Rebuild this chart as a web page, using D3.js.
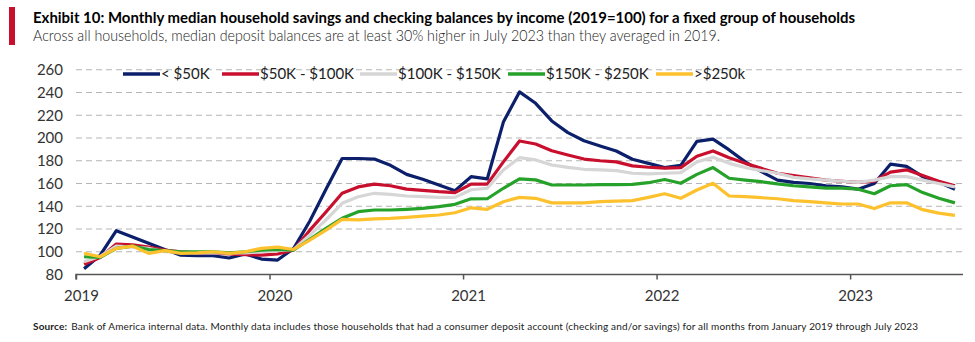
<!DOCTYPE html>
<html><head><meta charset="utf-8">
<script src="https://cdn.jsdelivr.net/npm/d3@7"></script>
<style>body{margin:0;background:#fff}svg{display:block}text{font-family:Lato,"Open Sans",sans-serif}</style>
</head><body><svg id="c" width="975" height="342"></svg>
<script>
const title = "Exhibit 10: Monthly median household savings and checking balances by income (2019=100) for a fixed group of households";
const subtitle = "Across all households, median deposit balances are at least 30% higher in July 2023 than they averaged in 2019.";
const sourceLabel = "Source:";
const sourceText = "Bank of America internal data. Monthly data includes those households  that had a consumer  deposit account  (checking  and/or savings) for all months from January 2019 through  July 2023";
const yearLabels = ["2019","2020","2021","2022","2023"];
const yTicks = [80,100,120,140,160,180,200,220,240,260];
const seriesNames = ["< $50K","$50K - $100K","$100K - $150K","$150K - $250K",">$250k"];
const seriesColors = ["#0c1f6b","#c8102e","#d6d6d6","#26a22a","#fdc12d"];
// monthly, Jan 2019 .. Jul 2023
const under50 = [85,97,118.5,113,107.5,102,97,96.5,96.5,94.5,98,93.6,92.7,103,127,155,182,182,181.5,176,168,163.7,158.7,153.7,166,164,214,240.5,230.5,215,204.7,197.6,193,188.6,181.3,177.7,174,176,197,199,189.5,179,170.4,163,161,160,158,157,155,160,177,175,166,161,155];
const k50to100 = [89,95,106.8,106,104,101.5,100,99,99,98,97.5,97,98,101.5,119,135,151.4,157,159.5,158,155,154,152.8,152,159.5,159.5,179,197.4,194.7,188.8,185,181.5,180,179,175.5,174.3,173.5,174,184,188.6,182.7,177.7,173.3,169,166.9,165,163,162,161,162,170,172,167,162,158];
const k100to150 = [91.3,96,105,104,103,100,99.5,99,99,99,99,100,101,102,114.7,128,142.6,148.4,151.4,150.5,149,148.4,147.8,147.8,154.5,155.8,171.9,182.7,180.7,176.3,174.2,172.5,171.9,171.3,169,168.4,169,169.6,179,183,177.7,174,171.3,169,165.4,164,163,162,161,163,166,166,163,160,157];
const k150to250 = [95.6,95,103,105,102,101,100,100,100,99,100,101.5,102,101.5,111,120.6,129.4,135.2,136.7,136.7,137.3,138.2,139.6,141.7,146.5,146.6,155.8,164,163.2,158.7,158.7,158.7,159,159,159.3,160.7,163.5,160.2,168,174,164.6,163,161.6,159.6,158,157,156,156,155,151,158,159,152,147,143];
const over250 = [98.6,95.6,103,105,98.6,101,98.6,99,100,98.6,100,103,104,102,110.3,119,128.5,128,128.9,129.4,130.3,131.4,132.3,134.3,138.6,137.3,144,147.8,147,143,143,143,144,144.5,145,147.8,151,147,154.3,160.2,149,148.5,147.5,146.6,145,144,143,142,142,138,143,143,137,134,132];
const seriesValues = [under50,k50to100,k100to150,k150to250,over250];

const svg = d3.select("#c");
const nMonths = under50.length;
const x = d3.scaleLinear().domain([0, nMonths]).range([76, 963]);
const y = d3.scaleLinear().domain([80, 260]).range([274.5, 69.75]);

// header
svg.append("rect").attr("x",9).attr("y",7).attr("width",6).attr("height",38).attr("fill","#c8102e");
svg.append("text").attr("x",33).attr("y",23).attr("font-size",15.5).attr("font-weight","bold").attr("fill","#000")
  .attr("textLength",822).attr("lengthAdjust","spacingAndGlyphs").text(title);
svg.append("text").attr("x",33).attr("y",41).attr("font-size",15.5).attr("font-weight",300).attr("fill","#222")
  .attr("textLength",687).attr("lengthAdjust","spacingAndGlyphs").text(subtitle);

// grid
const grid = svg.append("g");
grid.selectAll("line").data(yTicks.filter(d=>d>80)).join("line")
  .attr("x1",76).attr("x2",963).attr("y1",d=>y(d)).attr("y2",d=>y(d))
  .attr("stroke","#b5b5b5").attr("stroke-width",1).attr("stroke-dasharray","6,4");

// y axis labels
const yAxis = d3.axisLeft(y).tickValues(yTicks).tickSize(0).tickPadding(0);
const ya = svg.append("g").attr("transform","translate(63,0)").call(yAxis);
ya.select(".domain").remove();
ya.selectAll("text").attr("font-size",15).attr("fill","#333").attr("font-family","Lato,'Open Sans',sans-serif");

// x axis
const xAxis = d3.axisBottom(x).tickValues([0,12,24,36,48]).tickSize(5).tickFormat((d,i)=>yearLabels[i]).tickSizeOuter(0);
const xa = svg.append("g").attr("transform",`translate(0,${y(80)})`).call(xAxis);
xa.select(".domain").attr("stroke","#555").attr("stroke-width",1.5).attr("d",`M${x(0)},5V0H${x(nMonths)}`);
xa.selectAll(".tick line").attr("stroke","#555").attr("stroke-width",1.5);
xa.selectAll(".tick text").attr("font-size",15).attr("fill","#333").attr("dy","1.25em").attr("dx",5)
  .attr("font-family","Lato,'Open Sans',sans-serif");

// lines
const line = d3.line().x((d,i)=>x(i+0.5)).y(d=>y(d));
svg.append("g").selectAll("path").data(seriesValues).join("path")
  .attr("d",line).attr("fill","none").attr("stroke",(d,i)=>seriesColors[i])
  .attr("stroke-width",3.2).attr("stroke-linejoin","round");

// legend
const legendX = [123,222,360,508,656];
const lg = svg.append("g").selectAll("g").data(seriesNames).join("g")
  .attr("transform",(d,i)=>`translate(${legendX[i]},74)`);
lg.append("line").attr("x1",0).attr("x2",37).attr("stroke",(d,i)=>seriesColors[i]).attr("stroke-width",3.5);
lg.append("text").attr("x",38).attr("dy","0.36em").attr("font-size",15).attr("fill","#222").text(d=>d);

// source
const src = svg.append("text").attr("x",33).attr("y",330).attr("font-size",10).attr("fill","#222")
  .attr("textLength",885).attr("lengthAdjust","spacing");
src.append("tspan").attr("font-weight","bold").text(sourceLabel);
src.append("tspan").attr("dx",4).text(sourceText);
</script></body></html>
